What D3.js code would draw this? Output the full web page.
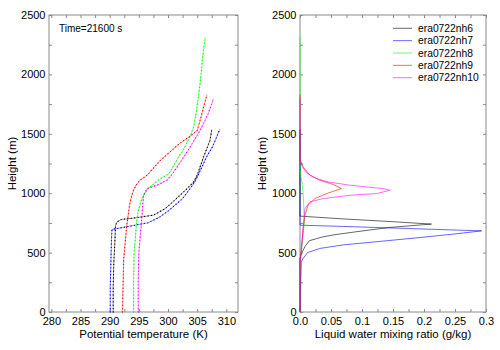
<!DOCTYPE html>
<html>
<head>
<meta charset="utf-8">
<script src="https://cdn.jsdelivr.net/npm/d3@7"></script>
<style>
  html, body { margin: 0; padding: 0; background: #fff; }
  svg { display: block; font-family: "Liberation Sans", Arial, Helvetica, sans-serif; }
</style>
</head>
<body>
<svg id="chart" width="500" height="350"></svg>
<script>
// ---------------- DATA ----------------
const seriesNames = ["era0722nh6", "era0722nh7", "era0722nh8", "era0722nh9", "era0722nh10"];
const seriesColors = ["#000000", "#0000ff", "#00ff00", "#ff0000", "#ff00ff"];

// Potential temperature profiles (K) vs height (m)
const thetaH_nh6  = [0, 200, 400, 600, 731, 760, 779, 790, 815, 870, 930, 1040, 1095, 1150, 1305, 1445, 1535];
const theta_nh6   = [290.6, 290.6, 290.7, 290.9, 291.0, 291.3, 292.0, 294.0, 297.5, 299.5, 300.9, 303.3, 304.4, 305.0, 306.1, 307.2, 307.5];
const thetaH_nh7  = [0, 200, 400, 600, 695, 751, 800, 857, 955, 1040, 1095, 1165, 1305, 1389, 1445, 1540];
const theta_nh7   = [290.1, 290.1, 290.2, 290.3, 290.4, 296.6, 298.6, 300.2, 302.5, 303.8, 304.6, 305.3, 306.6, 307.6, 308.1, 308.9];
const thetaH_nh8  = [0, 250, 500, 750, 850, 955, 1040, 1110, 1165, 1305, 1361, 1479, 1557, 1697, 1922, 2174, 2313];
const theta_nh8   = [294.1, 294.1, 294.2, 294.6, 294.9, 295.5, 296.6, 298.3, 300.2, 301.8, 302.6, 303.8, 304.4, 304.9, 305.5, 306.0, 306.4];
const thetaH_nh9  = [0, 227, 437, 717, 787, 900, 983, 1025, 1067, 1109, 1151, 1277, 1389, 1423, 1479, 1529, 1613, 1725, 1832];
const theta_nh9   = [292.2, 292.3, 292.4, 292.9, 293.1, 293.4, 293.8, 294.1, 294.5, 295.2, 296.4, 298.7, 301.3, 302.1, 303.8, 305.0, 305.5, 306.1, 306.7];
const thetaH_nh10 = [0, 250, 500, 787, 983, 1039, 1067, 1109, 1165, 1305, 1389, 1529, 1670, 1796];
const theta_nh10  = [294.9, 294.9, 295.0, 295.5, 295.8, 296.4, 298.1, 299.8, 300.8, 302.7, 303.8, 305.5, 306.9, 307.8];

// Liquid water mixing ratio (g/kg) vs height (m)
const qcH_nh6  = [0, 450, 500, 550, 600, 630, 650, 675, 712, 740, 760, 785, 807, 1535];
const qc_nh6   = [0, 0, 0.003, 0.008, 0.015, 0.035, 0.055, 0.09, 0.145, 0.212, 0.15, 0.065, 0, 0];
const qcH_nh7  = [0, 420, 450, 500, 535, 565, 600, 630, 660, 683, 695, 707, 720, 731, 1540];
const qc_nh7   = [0, 0.002, 0.005, 0.012, 0.032, 0.07, 0.14, 0.2, 0.255, 0.293, 0.22, 0.15, 0.07, 0, 0];
const qcH_nh8  = [0, 450, 500, 600, 750, 900, 1000, 1100, 1150, 1200, 2313];
const qc_nh8   = [0, 0, 0.002, 0.004, 0.007, 0.006, 0.005, 0.003, 0.001, 0, 0];
const qcH_nh9  = [0, 420, 591, 703, 815, 899, 955, 997, 1039, 1073, 1109, 1151, 1221, 1283, 1832];
const qc_nh9   = [0, 0, 0.003, 0.005, 0.008, 0.013, 0.024, 0.043, 0.067, 0.054, 0.032, 0.016, 0.005, 0, 0];
const qcH_nh10 = [0, 400, 550, 703, 871, 927, 955, 983, 997, 1025, 1039, 1067, 1095, 1123, 1165, 1220, 1280, 1796];
const qc_nh10  = [0, 0, 0.003, 0.005, 0.008, 0.016, 0.038, 0.081, 0.124, 0.145, 0.134, 0.081, 0.045, 0.027, 0.012, 0.004, 0, 0];

const yTickLabels = [0, 500, 1000, 1500, 2000, 2500];
const yMinorTicks = [0, 250, 500, 750, 1000, 1250, 1500, 1750, 2000, 2250, 2500];
const thetaTickLabels = ["280", "285", "290", "295", "300", "305", "310"];
const thetaMinorTicks = [280, 282.5, 285, 287.5, 290, 292.5, 295, 297.5, 300, 302.5, 305, 307.5, 310];
const qcTickLabels = ["0.0", "0.05", "0.1", "0.15", "0.2", "0.25", "0.3"];
const qcMinorTicks = [0, 0.025, 0.05, 0.075, 0.1, 0.125, 0.15, 0.175, 0.2, 0.225, 0.25, 0.275, 0.3];

const thetaSeries = [
  [thetaH_nh6, theta_nh6], [thetaH_nh7, theta_nh7], [thetaH_nh8, theta_nh8],
  [thetaH_nh9, theta_nh9], [thetaH_nh10, theta_nh10]
];
const qcSeries = [
  [qcH_nh6, qc_nh6], [qcH_nh7, qc_nh7], [qcH_nh8, qc_nh8],
  [qcH_nh9, qc_nh9], [qcH_nh10, qc_nh10]
];

// ---------------- LAYOUT ----------------
const svg = d3.select("#chart");
const yTop = 15, yBot = 312;
const y = d3.scaleLinear().domain([0, 2500]).range([yBot, yTop]);
const xL = d3.scaleLinear().domain([279.6, 312]).range([49, 238]);
const xR = d3.scaleLinear().domain([0, 0.3]).range([300, 486]);

const frameColor = "#8a8a8a";
const FONT = "Liberation Sans, Arial, sans-serif";

function drawFrame(x, xMinor, xLabels) {
  const g = svg.append("g");
  const [x0, x1] = x.range();
  const axes = [
    [d3.axisBottom(x).tickValues(xMinor), `translate(0,${yBot})`],
    [d3.axisTop(x).tickValues(xMinor), `translate(0,${yTop})`],
    [d3.axisLeft(y).tickValues(yMinorTicks), `translate(${x0},0)`],
    [d3.axisRight(y).tickValues(yMinorTicks), `translate(${x1},0)`]
  ];
  axes.forEach(([ax, tr]) => {
    const a = g.append("g").attr("transform", tr)
      .call(ax.tickSize(-3).tickFormat(""));
    a.select(".domain").remove();
    a.selectAll("line").attr("stroke", frameColor).attr("stroke-width", 1);
  });
  g.append("rect")
    .attr("x", x0).attr("y", yTop)
    .attr("width", x1 - x0).attr("height", yBot - yTop)
    .attr("fill", "none").attr("stroke", frameColor).attr("stroke-width", 1);

  const xa = g.append("g").attr("transform", `translate(0,${yBot})`)
    .call(d3.axisBottom(x).tickValues(xLabels.map(Number)).tickSize(0).tickPadding(5.5)
      .tickFormat((d, i) => xLabels[i]));
  xa.select(".domain").remove();
  xa.selectAll("text").attr("font-size", 11).attr("fill", "#000").attr("font-family", FONT);

  const ya = g.append("g").attr("transform", `translate(${x0},0)`)
    .call(d3.axisLeft(y).tickValues(yTickLabels).tickSize(0).tickPadding(3.5)
      .tickFormat(d3.format("d")));
  ya.select(".domain").remove();
  ya.selectAll("text").attr("font-size", 11).attr("fill", "#000").attr("font-family", FONT);
  return g;
}

// ---------------- LEFT PANEL ----------------
drawFrame(xL, thetaMinorTicks, thetaTickLabels);
const lineL = d3.line().x(d => xL(d[1])).y(d => y(d[0]));
const gL = svg.append("g");
thetaSeries.forEach(([hs, vs], i) => {
  const pts = hs.map((h, k) => [h, vs[k]]);
  gL.append("path").attr("d", lineL(pts)).attr("fill", "none")
    .attr("stroke", seriesColors[i]).attr("stroke-width", 0.6).attr("opacity", 0.7);
  gL.append("path").attr("d", lineL(pts)).attr("fill", "none")
    .attr("stroke", seriesColors[i]).attr("stroke-width", 1.3)
    .attr("stroke-linecap", "round").attr("stroke-dasharray", "0 3.4");
});
svg.append("text").attr("x", 59).attr("y", 31.5).attr("font-size", 10).attr("fill", "#000")
  .text("Time=21600 s");
svg.append("text").attr("x", (49 + 238) / 2).attr("y", 338).attr("text-anchor", "middle")
  .attr("font-size", 11.5).attr("fill", "#000").text("Potential temperature (K)");
svg.append("text").attr("transform", `translate(16,${(yTop + yBot) / 2}) rotate(-90)`)
  .attr("text-anchor", "middle").attr("font-size", 11.5).attr("fill", "#000").text("Height (m)");

// ---------------- RIGHT PANEL ----------------
drawFrame(xR, qcMinorTicks, qcTickLabels);
const lineR = d3.line().x(d => xR(d[1])).y(d => y(d[0]));
const gR = svg.append("g");
qcSeries.forEach(([hs, vs], i) => {
  const pts = hs.map((h, k) => [h, vs[k]]);
  gR.append("path").attr("d", lineR(pts)).attr("fill", "none")
    .attr("stroke", seriesColors[i]).attr("stroke-width", 0.8).attr("opacity", 0.75);
});
svg.append("text").attr("x", (300 + 486) / 2).attr("y", 338).attr("text-anchor", "middle")
  .attr("font-size", 11.5).attr("fill", "#000").text("Liquid water mixing ratio (g/kg)");
svg.append("text").attr("transform", `translate(266,${(yTop + yBot) / 2}) rotate(-90)`)
  .attr("text-anchor", "middle").attr("font-size", 11.5).attr("fill", "#000").text("Height (m)");

// legend
const lg = svg.append("g");
seriesNames.forEach((name, i) => {
  const ly = 28.3 + i * 12.35;
  lg.append("line").attr("x1", 393).attr("x2", 412).attr("y1", ly).attr("y2", ly)
    .attr("stroke", seriesColors[i]).attr("stroke-width", 0.9).attr("opacity", 0.65);
  lg.append("text").attr("x", 418).attr("y", ly).attr("dy", "0.35em")
    .attr("font-size", 10.3).attr("fill", "#000").text(name);
});
</script>
</body>
</html>
